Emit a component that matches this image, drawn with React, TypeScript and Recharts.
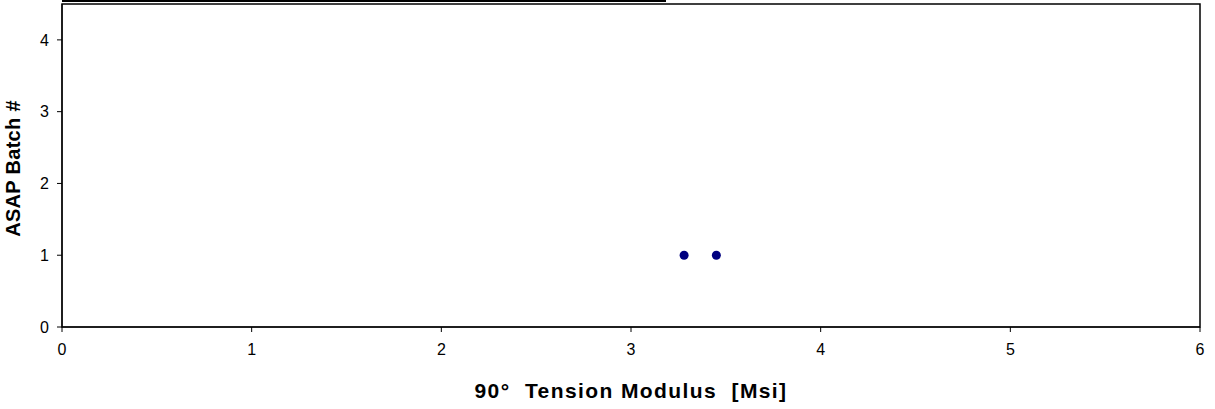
import React from "react";
import {
  ScatterChart,
  Scatter,
  XAxis,
  YAxis,
  ZAxis,
  ReferenceArea,
  Label,
} from "recharts";

const modulus = [3.28, 3.45];
const batch = [1, 1];
const xTicks = [0, 1, 2, 3, 4, 5, 6];
const yTicks = [0, 1, 2, 3, 4];

const FONT = "'Liberation Sans', Arial, sans-serif";

export default function App() {
  const points = modulus.map((m, i) => ({ x: m, y: batch[i] }));

  return (
    <div
      style={{
        position: "absolute",
        left: 0,
        top: 0,
        width: 1215,
        height: 409,
        background: "#fff",
        fontFamily: FONT,
      }}
    >
      {/* edge of the box cut off above the chart */}
      <div
        style={{
          position: "absolute",
          left: 62,
          top: 0,
          width: 604,
          height: 2,
          background: "#000",
        }}
      />
      <ScatterChart
        width={1215}
        height={409}
        margin={{ top: 4, right: 15, bottom: 0, left: 0 }}
      >
        <XAxis
          type="number"
          dataKey="x"
          domain={[0, 6]}
          ticks={xTicks}
          interval={0}
          height={82}
          stroke="#000"
          tickSize={5}
          tickMargin={12}
          tick={{ fill: "#000", fontSize: 16, fontFamily: FONT }}
        >
          <Label
            value={"90°\u00a0\u00a0Tension Modulus\u00a0\u00a0[Msi]"}
            position="insideBottom"
            offset={11}
            style={{
              fill: "#000",
              fontSize: 21,
              fontWeight: "bold",
              fontFamily: FONT,
              letterSpacing: 1.4,
            }}
          />
        </XAxis>
        <YAxis
          type="number"
          dataKey="y"
          domain={[0, 4.5]}
          ticks={yTicks}
          interval={0}
          width={62}
          stroke="#000"
          tickSize={5}
          tickMargin={8}
          tick={{ fill: "#000", fontSize: 16, fontFamily: FONT }}
        >
          <Label
            value="ASAP Batch #"
            angle={-90}
            position="insideLeft"
            offset={0}
            dy={3}
            dx={13}
            style={{
              textAnchor: "middle",
              fill: "#000",
              fontSize: 20,
              fontWeight: "bold",
              fontFamily: FONT,
              letterSpacing: 0.3,
            }}
          />
        </YAxis>
        <ZAxis range={[64, 64]} />
        <ReferenceArea
          x1={0}
          x2={6}
          y1={0}
          y2={4.5}
          fill="none"
          fillOpacity={0}
          stroke="#000"
          strokeWidth={1.5}
          ifOverflow="visible"
        />
        <Scatter
          data={points}
          fill="#000080"
          shape="circle"
          isAnimationActive={false}
        />
      </ScatterChart>
    </div>
  );
}
